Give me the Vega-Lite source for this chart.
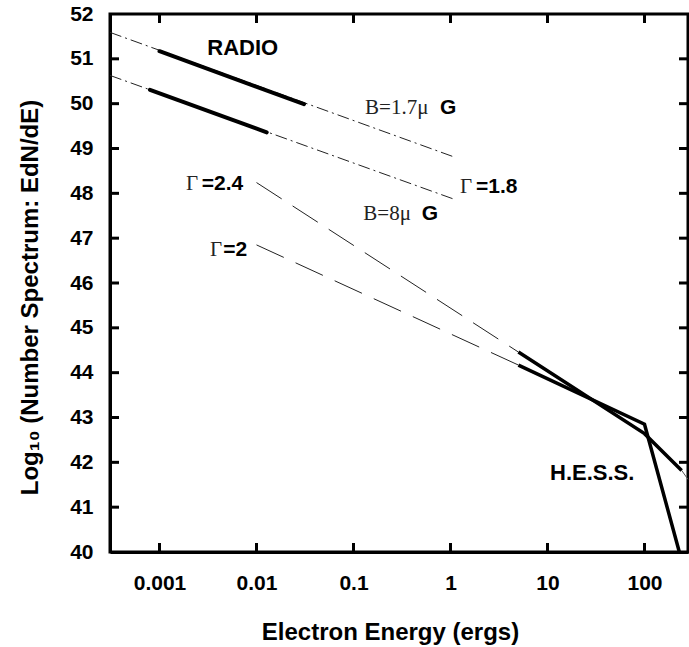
{
  "$schema": "https://vega.github.io/schema/vega-lite/v6.json",
  "width": 578,
  "height": 538,
  "autosize": {"type": "none"},
  "padding": {"left": 110, "top": 14, "right": 1, "bottom": 95},
  "background": "white",
  "config": {"view": {"stroke": "#000000", "strokeWidth": 3}, "font": "Liberation Sans"},
  "datasets": {
    "curves": [
      {"series": "B=1.7μG extrapolation", "E": 0.0003088, "logN": 51.59},
      {"series": "B=1.7μG extrapolation", "E": 1.062, "logN": 48.82},
      {"series": "B=1.7μG radio", "E": 0.001, "logN": 51.17},
      {"series": "B=1.7μG radio", "E": 0.0309, "logN": 49.99},
      {"series": "B=8μG extrapolation", "E": 0.0003088, "logN": 50.63},
      {"series": "B=8μG extrapolation", "E": 1.086, "logN": 47.87},
      {"series": "B=8μG radio", "E": 0.000798, "logN": 50.31},
      {"series": "B=8μG radio", "E": 0.01274, "logN": 49.36},
      {"series": "Γ=2.4 extrapolation", "E": 0.01, "logN": 48.24},
      {"series": "Γ=2.4 extrapolation", "E": 5.01, "logN": 44.46},
      {"series": "Γ=2.4 H.E.S.S.", "E": 5.01, "logN": 44.46},
      {"series": "Γ=2.4 H.E.S.S.", "E": 100, "logN": 42.64},
      {"series": "Γ=2.4 H.E.S.S.", "E": 241.5, "logN": 41.82},
      {"series": "Γ=2.4 tail", "E": 241.5, "logN": 41.82},
      {"series": "Γ=2.4 tail", "E": 280.8, "logN": 41.62},
      {"series": "Γ=2 extrapolation", "E": 0.01, "logN": 46.85},
      {"series": "Γ=2 extrapolation", "E": 5.01, "logN": 44.17},
      {"series": "Γ=2 H.E.S.S.", "E": 5.01, "logN": 44.17},
      {"series": "Γ=2 H.E.S.S.", "E": 100, "logN": 42.85},
      {"series": "Γ=2 H.E.S.S.", "E": 228.6, "logN": 40.0}
    ],
    "labels": [
      {"text": "RADIO", "E": 0.003112, "logN": 51.085, "kind": "name"},
      {"text": "H.E.S.S.", "E": 10.62, "logN": 41.605, "kind": "name"},
      {"text": "B=1.7μ", "E": 0.1315, "logN": 49.77, "kind": "symbol"},
      {"text": "G", "E": 0.78, "logN": 49.77, "kind": "value"},
      {"text": "B=8μ", "E": 0.1262, "logN": 47.405, "kind": "symbol"},
      {"text": "G", "E": 0.505, "logN": 47.405, "kind": "value"},
      {"text": "Γ", "E": 1.253, "logN": 48.007, "kind": "symbol"},
      {"text": "=1.8", "E": 1.832, "logN": 48.007, "kind": "value"},
      {"text": "Γ", "E": 0.001875, "logN": 48.074, "kind": "symbol"},
      {"text": "=2.4", "E": 0.002723, "logN": 48.074, "kind": "value"},
      {"text": "Γ", "E": 0.00332, "logN": 46.6, "kind": "symbol"},
      {"text": "=2", "E": 0.00455, "logN": 46.6, "kind": "value"}
    ],
    "xticks": [{"E": 0.001}, {"E": 0.01}, {"E": 0.1}, {"E": 1}, {"E": 10}, {"E": 100}],
    "yticks": [{"logN": 41}, {"logN": 42}, {"logN": 43}, {"logN": 44}, {"logN": 45}, {"logN": 46}, {"logN": 47}, {"logN": 48}, {"logN": 49}, {"logN": 50}, {"logN": 51}]
  },
  "layer": [
    {
      "data": {"name": "xticks"},
      "mark": {"type": "tick", "orient": "vertical", "size": 18, "thickness": 3, "color": "#000000", "opacity": 1, "clip": true},
      "encoding": {
        "x": {"field": "E", "type": "quantitative", "scale": {"type": "log", "domain": [0.0003088, 280.8], "nice": false},
          "axis": {"orient": "bottom", "values": [0.001, 0.01, 0.1, 1, 10, 100], "format": "~g", "grid": false,
            "ticks": false, "tickSize": 0, "domainColor": "black", "domainWidth": 3,
            "labelFont": "Liberation Sans", "labelFontWeight": "bold", "labelFontSize": 21, "labelColor": "black", "labelPadding": 20, "labelFlush": false, "labelOverlap": false,
            "title": "Electron Energy (ergs)", "titleFont": "Liberation Sans", "titleFontWeight": "bold", "titleFontSize": 24, "titleColor": "black",
            "titleX": 280, "titleY": 87, "titleAlign": "center", "titleBaseline": "alphabetic", "titleAnchor": null}},
        "y": {"datum": 40, "type": "quantitative", "scale": {"domain": [40, 52], "nice": false, "zero": false},
          "axis": {"orient": "left", "values": [40, 41, 42, 43, 44, 45, 46, 47, 48, 49, 50, 51, 52], "format": "d", "grid": false,
            "ticks": false, "tickSize": 0, "domainColor": "black", "domainWidth": 3,
            "labelFont": "Liberation Sans", "labelFontWeight": "bold", "labelFontSize": 21, "labelColor": "black", "labelPadding": 17, "labelFlush": false, "labelOverlap": false,
            "title": "Log₁₀ (Number Spectrum: EdN/dE)", "titleFont": "Liberation Sans", "titleFontWeight": "bold", "titleFontSize": 24, "titleColor": "black",
            "titleX": -80, "titleY": 283, "titleAngle": -90, "titleAlign": "center", "titleBaseline": "middle", "titleAnchor": null}}
      }
    },
    {
      "data": {"name": "xticks"},
      "mark": {"type": "tick", "orient": "vertical", "size": 18, "thickness": 3, "color": "#000000", "opacity": 1, "clip": true},
      "encoding": {
        "x": {"field": "E", "type": "quantitative"},
        "y": {"datum": 52, "type": "quantitative"}
      }
    },
    {
      "data": {"name": "yticks"},
      "mark": {"type": "tick", "orient": "horizontal", "size": 18, "thickness": 3, "color": "#000000", "opacity": 1, "clip": true},
      "encoding": {
        "x": {"datum": 0.0003088, "type": "quantitative"},
        "y": {"field": "logN", "type": "quantitative"}
      }
    },
    {
      "data": {"name": "yticks"},
      "mark": {"type": "tick", "orient": "horizontal", "size": 18, "thickness": 3, "color": "#000000", "opacity": 1, "clip": true},
      "encoding": {
        "x": {"datum": 280.8, "type": "quantitative"},
        "y": {"field": "logN", "type": "quantitative"}
      }
    },
    {
      "data": {"name": "curves"},
      "transform": [{"filter": {"field": "series", "oneOf": ["B=1.7μG extrapolation", "B=8μG extrapolation"]}}],
      "mark": {"type": "line", "stroke": "#222", "strokeWidth": 1, "strokeDash": [12, 4, 2, 4]},
      "encoding": {
        "x": {"field": "E", "type": "quantitative"},
        "y": {"field": "logN", "type": "quantitative"},
        "detail": {"field": "series"}
      }
    },
    {
      "data": {"name": "curves"},
      "transform": [{"filter": {"field": "series", "oneOf": ["Γ=2.4 extrapolation", "Γ=2 extrapolation"]}}],
      "mark": {"type": "line", "stroke": "#222", "strokeWidth": 1, "strokeDash": [30, 13]},
      "encoding": {
        "x": {"field": "E", "type": "quantitative"},
        "y": {"field": "logN", "type": "quantitative"},
        "detail": {"field": "series"}
      }
    },
    {
      "data": {"name": "curves"},
      "transform": [{"filter": {"field": "series", "equal": "Γ=2.4 tail"}}],
      "mark": {"type": "line", "stroke": "#555", "strokeWidth": 1},
      "encoding": {
        "x": {"field": "E", "type": "quantitative"},
        "y": {"field": "logN", "type": "quantitative"}
      }
    },
    {
      "data": {"name": "curves"},
      "transform": [{"filter": {"field": "series", "oneOf": ["B=1.7μG radio", "B=8μG radio"]}}],
      "mark": {"type": "line", "stroke": "black", "strokeWidth": 4, "strokeCap": "round"},
      "encoding": {
        "x": {"field": "E", "type": "quantitative"},
        "y": {"field": "logN", "type": "quantitative"},
        "detail": {"field": "series"}
      }
    },
    {
      "data": {"name": "curves"},
      "transform": [{"filter": {"field": "series", "oneOf": ["Γ=2.4 H.E.S.S.", "Γ=2 H.E.S.S."]}}],
      "mark": {"type": "line", "stroke": "black", "strokeWidth": 3.5, "strokeJoin": "miter"},
      "encoding": {
        "x": {"field": "E", "type": "quantitative"},
        "y": {"field": "logN", "type": "quantitative"},
        "detail": {"field": "series"}
      }
    },
    {
      "data": {"name": "labels"},
      "transform": [{"filter": {"field": "kind", "equal": "name"}}],
      "mark": {"type": "text", "align": "left", "baseline": "alphabetic", "font": "Liberation Sans", "fontWeight": "bold", "fontSize": 22, "color": "black"},
      "encoding": {
        "x": {"field": "E", "type": "quantitative"},
        "y": {"field": "logN", "type": "quantitative"},
        "text": {"field": "text"}
      }
    },
    {
      "data": {"name": "labels"},
      "transform": [{"filter": {"field": "kind", "equal": "value"}}],
      "mark": {"type": "text", "align": "left", "baseline": "alphabetic", "font": "Liberation Sans", "fontWeight": "bold", "fontSize": 21, "color": "black"},
      "encoding": {
        "x": {"field": "E", "type": "quantitative"},
        "y": {"field": "logN", "type": "quantitative"},
        "text": {"field": "text"}
      }
    },
    {
      "data": {"name": "labels"},
      "transform": [{"filter": {"field": "kind", "equal": "symbol"}}],
      "mark": {"type": "text", "align": "left", "baseline": "alphabetic", "font": "Liberation Serif", "fontSize": 21, "color": "#222"},
      "encoding": {
        "x": {"field": "E", "type": "quantitative"},
        "y": {"field": "logN", "type": "quantitative"},
        "text": {"field": "text"}
      }
    }
  ]
}
